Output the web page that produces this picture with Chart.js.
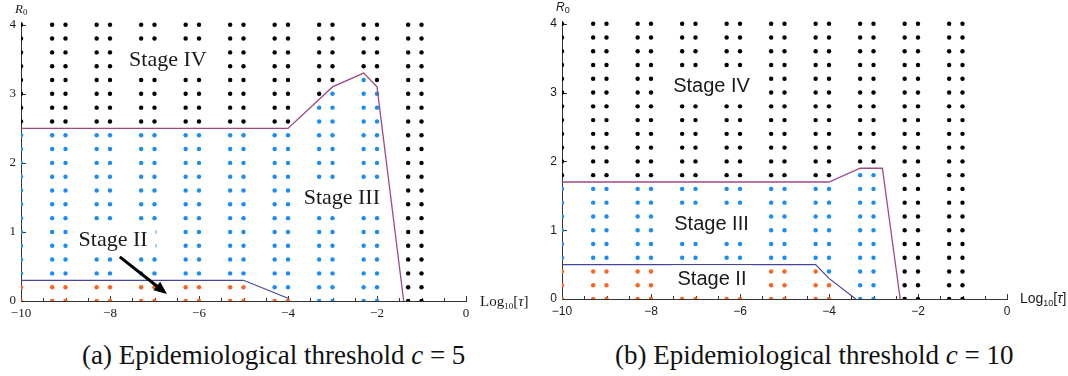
<!DOCTYPE html>
<html><head><meta charset="utf-8">
<script src="https://cdn.jsdelivr.net/npm/chart.js@4"></script>
<style>
html,body{margin:0;padding:0;background:#fff;}
#wrap{position:relative;width:1068px;height:376px;overflow:hidden;background:#fff;}
canvas{position:absolute;top:0;}
.cap{position:absolute;top:342px;font-family:"Liberation Serif",serif;font-size:27px;line-height:27px;white-space:nowrap;color:#111;}
</style></head><body>
<div id="wrap">
<canvas id="ca" width="534" height="330" style="left:0"></canvas>
<canvas id="cb" width="534" height="330" style="left:534px"></canvas>
<div class="cap" style="left:82px">(a) Epidemiological threshold <i>c</i> = 5</div>
<div class="cap" style="left:615px">(b) Epidemiological threshold <i>c</i> = 10</div>
</div>
<script>
// ---- data ----
const logTau = [-10,-9.3,-9,-8.3,-8,-7.3,-7,-6.3,-6,-5.3,-5,-4.3,-4,-3.3,-3,-2.3,-2,-1.3,-1];
const r0Levels = [0,0.2,0.4,0.6,0.8,1,1.2,1.4,1.6,1.8,2,2.2,2.4,2.6,2.8,3,3.2,3.4,3.6,3.8,4];
// highest R0 per column classified as Stage II / Stage III (null = none)
const stageIIMaxA  = [0.2,0.2,0.2,0.2,0.2,0.2,0.2,0.2,0.2,0.2,0.2,0,0,null,null,null,null,null,null];
const stageIIIMaxA = [2.4,2.4,2.4,2.4,2.4,2.4,2.4,2.4,2.4,2.4,2.4,2.4,2.4,2.8,3.0,3.2,3.0,null,null];
const stageIIMaxB  = [0.4,0.4,0.4,0.4,0.4,0.4,0.4,0.4,0.4,0.4,0.4,0.4,0.2,null,null,null,null,null,null];
const stageIIIMaxB = [1.6,1.6,1.6,1.6,1.6,1.6,1.6,1.6,1.6,1.6,1.6,1.6,1.6,1.8,1.8,null,null,null,null];
// boundary curves
const upperXA = [-10,-4,-3,-2.3,-2,-1.4];
const upperYA = [2.5,2.5,3.1,3.3,3.1,0];
const lowerXA = [-10,-5,-4];
const lowerYA = [0.3,0.3,0.04];
const upperXB = [-10,-4,-3.3,-2.8,-2.4];
const upperYB = [1.7,1.7,1.9,1.9,0];
const lowerXB = [-10,-4.3,-4,-3.4];
const lowerYB = [0.5,0.5,0.3,0];
// ticks
const xTicks = [-10,-8,-6,-4,-2,0];
const yTicks = [0,1,2,3,4];
const stageNames = ['Stage IV','Stage III','Stage II'];

const COL = {iv:'#000000', iii:'#1a8cf2', ii:'#fa6420', upper:'#9e4a88', lower:'#45459e', axis:'#333333', text:'#1a1a1a'};

function fmt(v){ return v < 0 ? '\u2212' + Math.abs(v) : String(v); }

function buildPoints(iiMax, iiiMax){
  const s2=[], s3=[], s4=[];
  logTau.forEach((x,i)=>{
    r0Levels.forEach(r=>{
      const p={x:x,y:r};
      if (iiMax[i]!==null && r<=iiMax[i]+1e-9) s2.push(p);
      else if (iiiMax[i]!==null && r<=iiiMax[i]+1e-9) s3.push(p);
      else s4.push(p);
    });
  });
  return {s2,s3,s4};
}

const deco = {
  id:'deco',
  beforeDatasetsDraw(chart, args, o){
    const ctx=chart.ctx, xs=chart.scales.x, ys=chart.scales.y, a=chart.chartArea;
    ctx.save();
    ctx.strokeStyle=COL.axis; ctx.lineWidth=1;
    ctx.beginPath();
    for(let k=0;k<=20;k++){
      const v=-10+k*0.5; const px=Math.round(xs.getPixelForValue(v))+0.5;
      const len = (k%4===0)?5:3;
      ctx.moveTo(px,a.bottom); ctx.lineTo(px,a.bottom-len);
    }
    yTicks.forEach(v=>{
      const py=Math.round(ys.getPixelForValue(v))+0.5;
      ctx.moveTo(a.left,py); ctx.lineTo(a.left+5,py);
    });
    ctx.stroke();
    ctx.restore();
  },
  afterDatasetsDraw(chart, args, o){
    const ctx=chart.ctx, xs=chart.scales.x, ys=chart.scales.y, a=chart.chartArea;
    ctx.save();
    // stage labels with white boxes
    ctx.font = o.labelFont;
    ctx.textAlign='center'; ctx.textBaseline='middle';
    o.labels.forEach(l=>{
      const px=xs.getPixelForValue(l.x), py=ys.getPixelForValue(l.y);
      const w=ctx.measureText(l.text).width+o.boxPadX*2, h=o.boxH;
      ctx.fillStyle='#fff';
      ctx.fillRect(px-w/2, py-h/2, w, h);
      ctx.fillStyle=COL.text;
      ctx.fillText(l.text, px, py+o.textDy);
    });
    // arrow
    if (o.arrow){
      const x0=xs.getPixelForValue(o.arrow.x0), y0=ys.getPixelForValue(o.arrow.y0);
      const x1=xs.getPixelForValue(o.arrow.x1), y1=ys.getPixelForValue(o.arrow.y1);
      const ang=Math.atan2(y1-y0,x1-x0), hl=13, hw=5.5;
      const bx=x1-hl*Math.cos(ang), by=y1-hl*Math.sin(ang);
      ctx.strokeStyle='#000'; ctx.lineWidth=3; ctx.lineCap='butt';
      ctx.beginPath(); ctx.moveTo(x0,y0); ctx.lineTo(bx+2*Math.cos(ang),by+2*Math.sin(ang)); ctx.stroke();
      ctx.fillStyle='#000';
      ctx.beginPath(); ctx.moveTo(x1,y1);
      ctx.lineTo(bx+hw*Math.sin(ang), by-hw*Math.cos(ang));
      ctx.lineTo(bx-hw*Math.sin(ang), by+hw*Math.cos(ang));
      ctx.closePath(); ctx.fill();
    }
    ctx.restore();
  },
  afterDraw(chart, args, o){
    const ctx=chart.ctx, a=chart.chartArea;
    ctx.save();
    ctx.fillStyle=COL.text; ctx.textAlign='left'; ctx.textBaseline='alphabetic';
    // R0
    let x=a.left+o.rDx, y=a.top+o.rDy;
    ctx.font='italic '+o.rSize+'px '+o.family;
    ctx.fillText('R', x, y);
    x+=ctx.measureText('R').width;
    ctx.font=o.subSize+'px '+o.family;
    ctx.fillText('0', x, y+2);
    // Log10[tau]
    x=a.right+o.lDx; y=a.bottom+o.lDy;
    ctx.font=o.lSize+'px '+o.family;
    ctx.fillText('Log', x, y); x+=ctx.measureText('Log').width;
    ctx.font=o.subSize+'px '+o.family;
    ctx.fillText('10', x, y+3); x+=ctx.measureText('10').width;
    ctx.font=o.lSize+'px '+o.family;
    ctx.fillText('[', x, y); x+=ctx.measureText('[').width;
    ctx.font='italic '+o.lSize+'px '+o.family;
    ctx.fillText('\u03C4', x, y); x+=ctx.measureText('\u03C4').width;
    ctx.font=o.lSize+'px '+o.family;
    ctx.fillText(']', x, y);
    ctx.restore();
  }
};

function makeChart(id, p){
  const pts=buildPoints(p.iiMax,p.iiiMax);
  const line=(xs,ys)=>xs.map((x,i)=>({x:x,y:ys[i]}));
  const dot=(d,c)=>({data:d, backgroundColor:c, borderWidth:0, pointRadius:2.2, pointHoverRadius:2.2, clip:0});
  return new Chart(document.getElementById(id), {
    type:'scatter',
    data:{datasets:[
      {data:line(p.upX,p.upY), showLine:true, borderColor:COL.upper, borderWidth:1.3, pointRadius:0, fill:false, clip:0},
      {data:line(p.loX,p.loY), showLine:true, borderColor:COL.lower, borderWidth:1.2, pointRadius:0, fill:false, clip:0},
      dot(pts.s2,COL.ii), dot(pts.s3,COL.iii), dot(pts.s4,COL.iv)
    ]},
    options:{
      responsive:false, animation:false, devicePixelRatio:1, events:[],
      layout:{padding:{left:0,right:p.padR,top:p.padT,bottom:0}},
      plugins:{legend:{display:false}, tooltip:{enabled:false}, deco:p.deco},
      scales:{
        x:{type:'linear', min:-10, max:0,
           afterBuildTicks:s=>{s.ticks=xTicks.map(v=>({value:v}));},
           afterFit:s=>{s.height=p.xH;},
           grid:{display:false, drawTicks:false},
           border:{display:true, color:COL.axis, width:1},
           ticks:{padding:p.xPad, font:{family:p.family,size:p.tickSize}, color:COL.text, callback:v=>fmt(v), maxRotation:0, autoSkip:false}},
        y:{type:'linear', min:0, max:4.04,
           afterBuildTicks:s=>{s.ticks=yTicks.map(v=>({value:v}));},
           afterFit:s=>{s.width=p.yW;},
           grid:{display:false, drawTicks:false},
           border:{display:true, color:COL.axis, width:1},
           ticks:{padding:p.yPad, font:{family:p.family,size:p.tickSize}, color:COL.text, callback:v=>fmt(v), autoSkip:false}}
      }
    },
    plugins:[deco]
  });
}

makeChart('ca', {
  iiMax:stageIIMaxA, iiiMax:stageIIIMaxA, upX:upperXA, upY:upperYA, loX:lowerXA, loY:lowerYA,
  family:'"Liberation Serif", serif', tickSize:13, padR:68, padT:22, xH:29, yW:21, xPad:5, yPad:5,
  deco:{
    labelFont:'22px "Liberation Serif", serif', boxPadX:8, boxH:28, textDy:1,
    labels:[{text:stageNames[0],x:-6.7,y:3.5},{text:stageNames[1],x:-2.79,y:1.5},{text:stageNames[2],x:-7.93,y:0.9}],
    arrow:{x0:-7.78,y0:0.64,x1:-6.72,y1:0.1},
    family:'"Liberation Serif", serif', rSize:13, subSize:9, rDx:-6, rDy:-9, lSize:15, lDx:14, lDy:5
  }
});
makeChart('cb', {
  iiMax:stageIIMaxB, iiiMax:stageIIIMaxB, upX:upperXB, upY:upperYB, loX:lowerXB, loY:lowerYB,
  family:'"Liberation Sans", sans-serif', tickSize:12, padR:61, padT:21, xH:31, yW:28, xPad:5, yPad:5,
  deco:{
    labelFont:'20px "Liberation Sans", sans-serif', boxPadX:6, boxH:26, textDy:1,
    labels:[{text:stageNames[0],x:-6.64,y:3.1},{text:stageNames[1],x:-6.64,y:1.1},{text:stageNames[2],x:-6.63,y:0.3}],
    arrow:null,
    family:'"Liberation Sans", sans-serif', rSize:12, subSize:9, rDx:-6, rDy:-10, lSize:14, lDx:13, lDy:4
  }
});
</script>
</body></html>
